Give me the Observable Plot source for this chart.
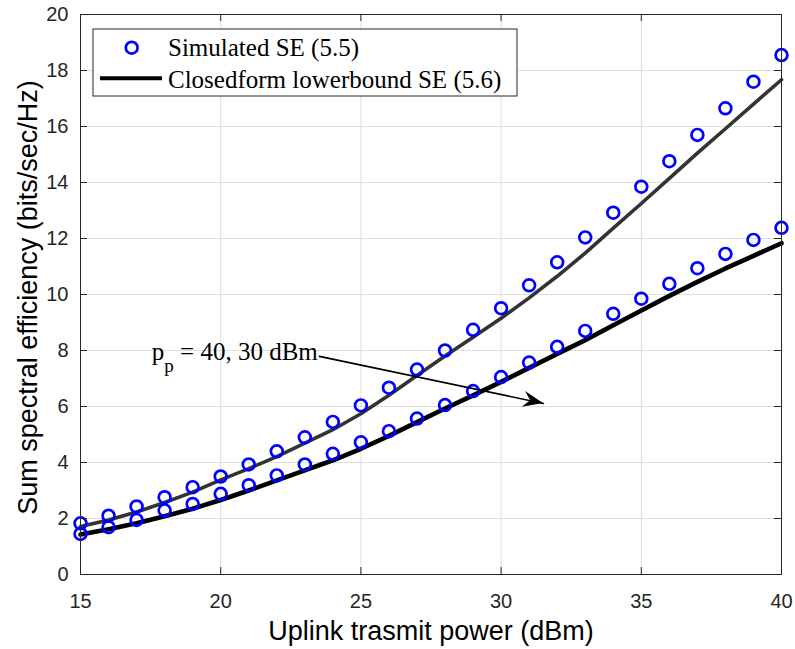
<!DOCTYPE html>
<html><head><meta charset="utf-8">
<script src="https://cdn.jsdelivr.net/npm/d3@7"></script>
<script src="https://cdn.jsdelivr.net/npm/@observablehq/plot@0.6"></script>
<style>body{margin:0;background:#fff}</style>
</head><body><div id="chart"></div>
<script>
// ---- data ----
const power = [15,16,17,18,19,20,21,22,23,24,25,26,27,28,29,30,31,32,33,34,35,36,37,38,39,40];
const simHigh = [1.83,2.10,2.43,2.76,3.12,3.50,3.93,4.40,4.90,5.45,6.04,6.67,7.32,8.00,8.74,9.51,10.33,11.15,12.04,12.92,13.85,14.76,15.70,16.65,17.60,18.55];
const simLow = [1.45,1.69,1.95,2.29,2.52,2.88,3.19,3.54,3.93,4.31,4.72,5.12,5.57,6.05,6.55,7.05,7.57,8.13,8.70,9.31,9.85,10.38,10.94,11.45,11.95,12.38];
const boundHigh = [1.71,1.95,2.23,2.57,2.94,3.38,3.78,4.21,4.69,5.17,5.74,6.40,7.11,7.80,8.47,9.15,9.88,10.65,11.48,12.37,13.25,14.15,15.05,15.92,16.80,17.67];
const boundLow = [1.43,1.62,1.83,2.08,2.35,2.66,3.00,3.36,3.72,4.08,4.49,4.95,5.44,5.93,6.40,6.88,7.38,7.88,8.37,8.90,9.43,9.95,10.45,10.93,11.38,11.83];
const xTicks = [15,20,25,30,35,40];
const yTicks = [0,2,4,6,8,10,12,14,16,18,20];
const xLabel = "Uplink trasmit power (dBm)";
const yLabel = "Sum spectral efficiency (bits/sec/Hz)";
const legendLabels = ["Simulated SE (5.5)", "Closedform lowerbound SE (5.6)"];
const annText = ["p", "p", " = 40, 30 dBm"];
const annPos = [17.56, 7.64];
const arrowFrom = [23.52, 7.79];
const arrowTo = [31.51, 6.11];

// ---- layout ----
const W = 795, H = 649, mL = 80, mR = 14, mT = 14, mB = 75;
const pw = W - mL - mR, ph = H - mT - mB;
const rows = ys => power.map((x, i) => ({x, y: ys[i]}));
const sans = "'Liberation Sans', Arial, Helvetica, sans-serif";
const serif = "'Liberation Serif', 'Times New Roman', serif";
const ink = "#262626";

const chart = Plot.plot({
  width: W, height: H,
  marginLeft: mL, marginRight: mR, marginTop: mT, marginBottom: mB,
  style: {background: "white", color: ink, fontFamily: sans},
  x: {domain: [15, 40]},
  y: {domain: [0, 20]},
  marks: [
    Plot.gridX(xTicks, {stroke: "#dedede", strokeOpacity: 1}),
    Plot.gridY(yTicks, {stroke: "#dedede", strokeOpacity: 1}),
    Plot.line(rows(boundHigh), {x: "x", y: "y", stroke: "#333333", strokeWidth: 3.6}),
    Plot.line(rows(boundLow), {x: "x", y: "y", stroke: "#000000", strokeWidth: 4.6}),
    Plot.dot(rows(simHigh), {x: "x", y: "y", r: 5.9, stroke: "#0000ff", strokeWidth: 2.7, fill: "none"}),
    Plot.dot(rows(simLow), {x: "x", y: "y", r: 5.9, stroke: "#0000ff", strokeWidth: 2.7, fill: "none"}),
    Plot.arrow([{x1: arrowFrom[0], y1: arrowFrom[1], x2: arrowTo[0], y2: arrowTo[1]}],
      {x1: "x1", y1: "y1", x2: "x2", y2: "y2", stroke: "#000", strokeWidth: 1.6, headLength: 0}),
    Plot.frame({stroke: ink, strokeWidth: 1}),
    Plot.tickX(xTicks, {x: d => d, insetTop: ph - 7, stroke: ink}),
    Plot.tickX(xTicks, {x: d => d, insetBottom: ph - 7, stroke: ink}),
    Plot.tickY(yTicks, {y: d => d, insetRight: pw - 7, stroke: ink}),
    Plot.tickY(yTicks, {y: d => d, insetLeft: pw - 7, stroke: ink}),
    Plot.axisX(xTicks, {tickSize: 0, tickPadding: 19, fontSize: 20, label: null, fill: ink}),
    Plot.axisY(yTicks, {tickSize: 0, tickPadding: 12, fontSize: 20, label: null, fill: ink}),
    Plot.text([xLabel], {text: d => d, frameAnchor: "bottom", dy: 65, lineAnchor: "bottom", textAnchor: "middle", fontSize: 27, fill: "#000"}),
    Plot.text([yLabel], {text: d => d, frameAnchor: "left", dx: -44, dy: 3, rotate: -90, lineAnchor: "bottom", textAnchor: "middle", fontSize: 27, fill: "#000"})
  ]
});
document.getElementById("chart").appendChild(chart);

const svg = d3.select(chart);
const sx = chart.scale("x"), sy = chart.scale("y");

// ---- filled swept arrowhead at the end of the annotation arrow ----
{
  const x1 = sx.apply(arrowFrom[0]), y1 = sy.apply(arrowFrom[1]);
  const x2 = sx.apply(arrowTo[0]), y2 = sy.apply(arrowTo[1]);
  const len = Math.hypot(x2 - x1, y2 - y1), ux = (x2 - x1) / len, uy = (y2 - y1) / len;
  const nx = -uy, ny = ux, L = 20, hw = 8, notch = 13;
  const bx = x2 - ux * L, by = y2 - uy * L;
  const p = [[x2, y2], [bx + nx * hw, by + ny * hw], [x2 - ux * notch, y2 - uy * notch], [bx - nx * hw, by - ny * hw]];
  svg.append("path").attr("d", "M" + p.map(q => q.join(",")).join("L") + "Z").attr("fill", "#000");
}

// ---- legend (inside the axes, top-left) ----
const lg = svg.append("g").attr("text-anchor", "start");
lg.append("rect").attr("x", 93).attr("y", 29).attr("width", 424).attr("height", 67)
  .attr("fill", "white").attr("stroke", ink).attr("stroke-width", 1);
lg.append("circle").attr("cx", 131.7).attr("cy", 47.7).attr("r", 5.9)
  .attr("fill", "none").attr("stroke", "#0000ff").attr("stroke-width", 2.7);
lg.append("line").attr("x1", 100).attr("x2", 162).attr("y1", 78.3).attr("y2", 78.3)
  .attr("stroke", "#000").attr("stroke-width", 4);
legendLabels.forEach((t, i) => {
  lg.append("text").attr("x", 168).attr("y", i === 0 ? 56 : 88.3).attr("text-anchor", "start")
    .attr("font-family", serif).attr("font-size", 25).attr("fill", "#000").text(t);
});

// ---- annotation text with subscript, placed via the plot's scales ----
const at = svg.append("text").attr("x", sx.apply(annPos[0])).attr("y", sy.apply(annPos[1]))
  .attr("text-anchor", "start")
  .attr("font-family", serif).attr("font-size", 25).attr("fill", "#000")
  .style("white-space", "pre");
at.append("tspan").text(annText[0]);
at.append("tspan").attr("dy", 12).attr("font-size", 19).text(annText[1]);
at.append("tspan").attr("dy", -12).text(annText[2]);
</script>
</body></html>
